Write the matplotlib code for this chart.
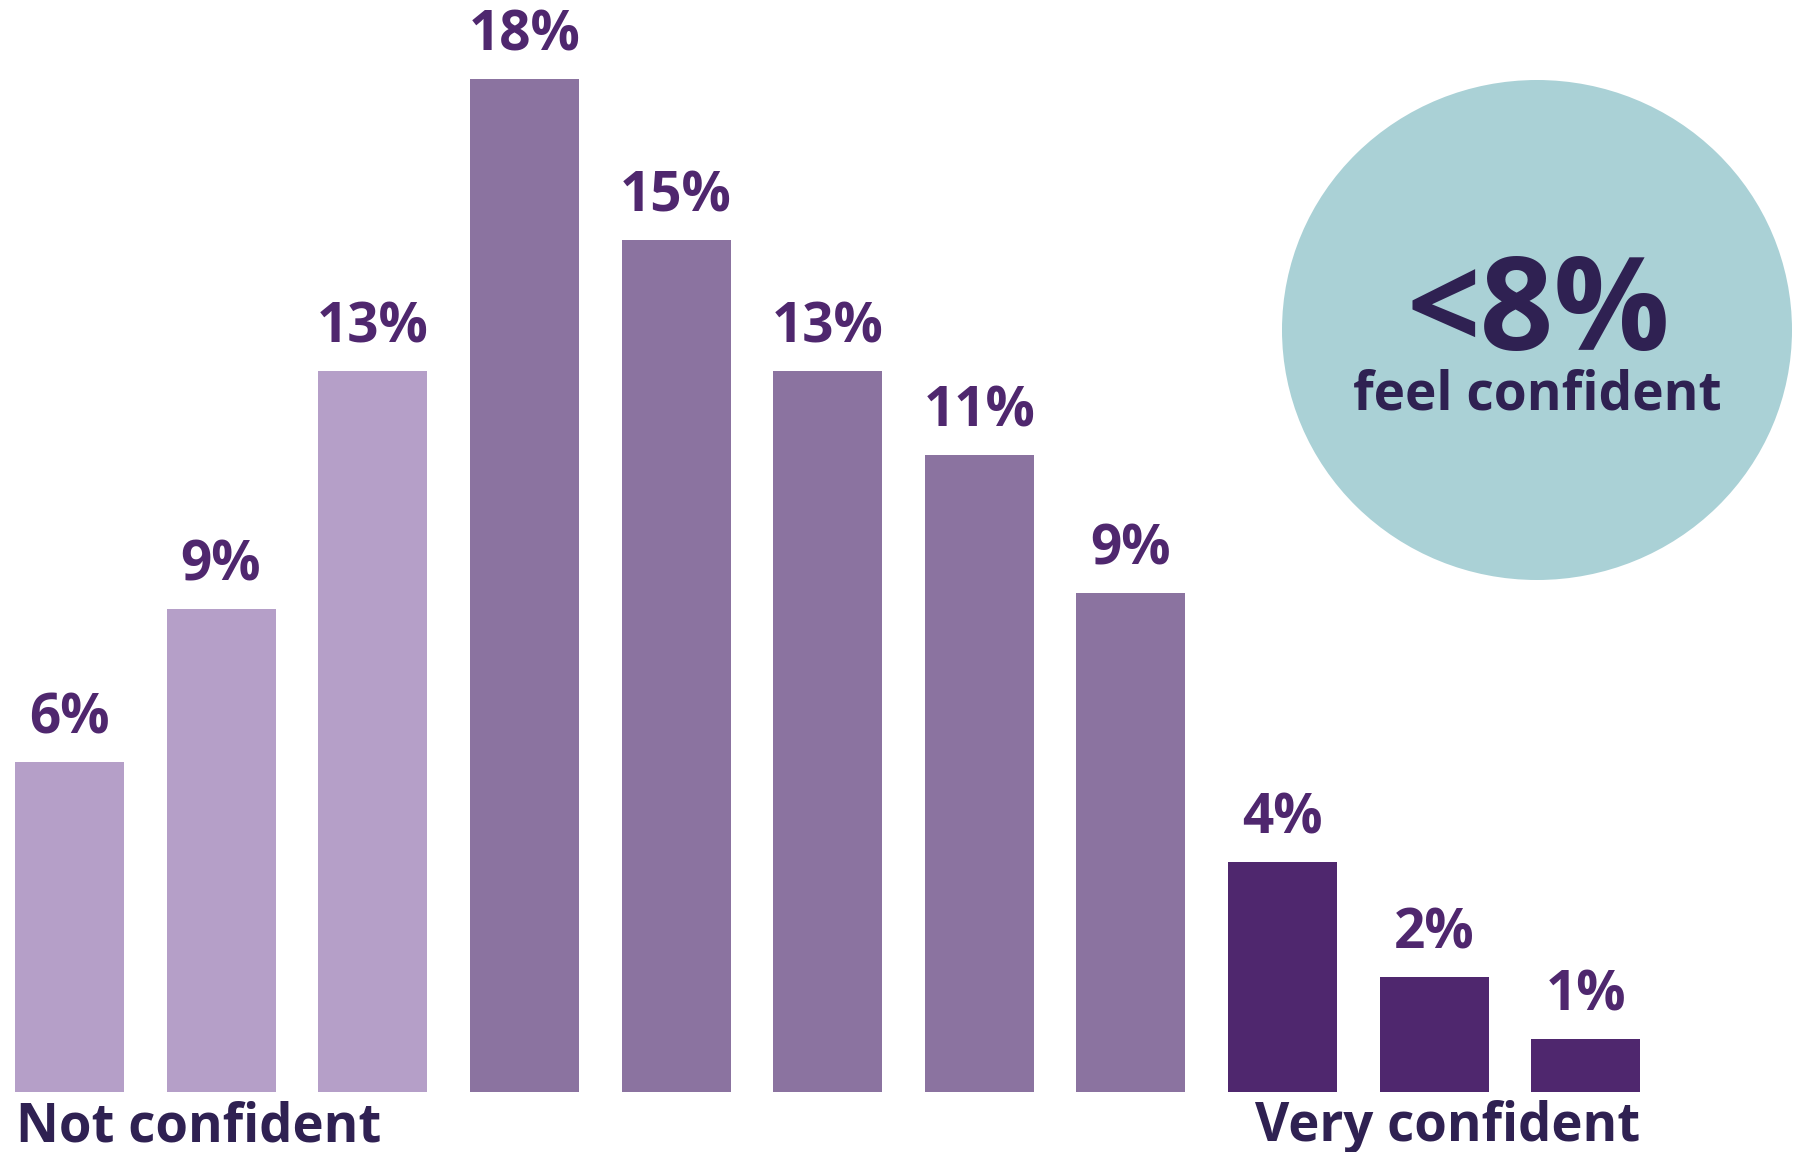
import matplotlib
matplotlib.use("Agg")
import matplotlib.pyplot as plt
from matplotlib.patches import Ellipse

# Data (bar heights; labels as printed)
levels = list(range(1, 12))
values = [5.86, 8.58, 12.81, 18.0, 15.14, 12.81, 11.32, 8.87, 4.09, 2.04, 0.94]
labels = ["6%", "9%", "13%", "18%", "15%", "13%", "11%", "9%", "4%", "2%", "1%"]
groups = ["low", "low", "low", "mid", "mid", "mid", "mid", "mid", "high", "high", "high"]
group_colors = {"low": "#b59fc8", "mid": "#8b73a0", "high": "#4f276e"}
end_labels = ["Not confident", "Very confident"]
callout_value = "<8%"
callout_text = "feel confident"

plt.rcParams['font.family'] = ['Open Sans', 'DejaVu Sans']

W, H, DPI = 1798, 1152, 100
fig = plt.figure(figsize=(W / DPI, H / DPI), dpi=DPI)
ax = fig.add_axes([0, 0, 1, 1])

px_per_unit = 56.28
pitch = 151.65
x0 = 69.4
base = 1092.0
ax.set_xlim((0 - x0) / pitch + 1, (W - x0) / pitch + 1)
ax.set_ylim(-(H - base) / px_per_unit, base / px_per_unit)
ax.axis('off')

colors = [group_colors[g] for g in groups]
ax.bar(levels, values, width=109 / pitch, color=colors, linewidth=0)

for x, v, lab in zip(levels, values, labels):
    ax.annotate(lab, (x, v), xytext=(0, 20.5), textcoords='offset points',
                ha='center', va='baseline', fontsize=39.5, fontweight='bold',
                color='#4f276e')

ax.text(16 / W, 1 - 1141 / H, end_labels[0], transform=fig.transFigure,
        ha='left', va='baseline', fontsize=38, fontweight='bold', color='#2f2152')
ax.text(1640 / W, 1 - 1141 / H, end_labels[1], transform=fig.transFigure,
        ha='right', va='baseline', fontsize=38, fontweight='bold', color='#2f2152')

ell = Ellipse((1537 / W, 1 - 330 / H), 510 / W, 500 / H, transform=fig.transFigure,
              facecolor='#aad1d6', edgecolor='none', zorder=0)
fig.patches.append(ell)

fig.text(1538 / W, 1 - 350 / H, callout_value, ha='center', va='baseline',
         fontsize=93, fontweight='bold', color='#2f2152')
fig.text(1537 / W, 1 - 410 / H, callout_text, ha='center', va='baseline',
         fontsize=38.3, fontweight='bold', color='#2f2152')

fig.savefig("out.png", dpi=DPI)
